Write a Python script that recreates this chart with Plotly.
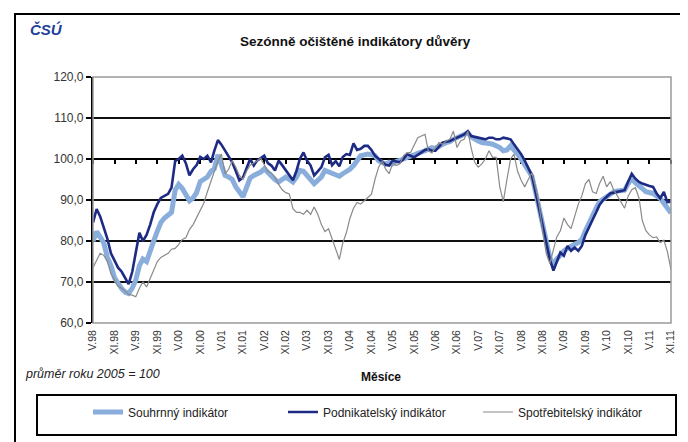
import pandas as pd
import plotly.graph_objects as go

# ---------------- data ----------------
START_MONTH = "1998-05-01"
END_MONTH = "2011-11-01"

SOUHRNNY = [
    80.0, 82.3, 81.0, 79.5, 76.0, 74.0, 71.0, 69.5,
    68.4, 67.5, 67.2, 68.5, 70.5, 74.0, 75.6, 75.0, 78.0, 80.0, 82.4, 84.5,
    85.6, 86.5, 87.0, 92.4, 93.8, 92.8, 91.5, 89.8, 90.5, 91.8, 94.5, 95.2,
    95.6, 97.0, 97.6, 101.0, 98.8, 96.0, 95.6, 95.0, 93.2, 91.8, 90.8, 93.0,
    95.4, 96.0, 96.4, 96.8, 97.6, 96.6, 95.6, 95.0, 94.4, 95.0, 95.6, 95.0,
    94.4, 95.6, 97.2, 97.0, 96.0, 95.0, 94.0, 94.8, 95.6, 97.2, 96.8, 96.4,
    96.0, 95.8, 96.4, 96.8, 97.5, 98.4, 99.5, 100.8, 101.0, 101.2, 101.0, 100.8,
    99.6, 99.2, 98.8, 99.2, 98.8, 99.4, 99.6, 100.0, 100.4, 100.6, 101.0, 101.4,
    101.6, 102.0, 102.4, 102.8, 102.6, 103.2, 103.6, 104.0, 104.2, 104.8, 105.2, 105.8,
    106.2, 106.4, 105.4, 104.8, 104.4, 104.0, 104.0, 103.8, 103.6, 103.2, 102.8, 102.0,
    102.2, 103.2, 102.4, 101.2, 100.0, 98.4, 97.0, 95.8, 92.0, 88.0, 84.0, 79.5,
    76.0, 74.0, 75.6, 76.5, 77.6, 78.2, 78.8, 79.2, 79.6, 80.4, 82.5, 84.5,
    86.4, 88.0, 89.6, 90.3, 90.8, 91.5, 92.0, 92.2, 92.4, 92.4, 94.0, 95.2,
    94.2, 93.6, 92.8, 92.0, 91.8, 91.6, 91.0, 90.4, 89.2, 88.0, 86.8,
]

PODNIKATELSKY = [
    84.5, 87.8, 86.0, 83.5, 80.5, 77.0, 75.0, 73.5,
    72.5, 71.0, 69.5, 72.5, 77.0, 82.0, 80.0, 81.5, 84.0, 87.0, 89.0, 90.5,
    91.0, 91.5, 93.0, 99.5, 100.0, 100.8, 99.0, 96.0, 97.5, 98.5, 100.5, 100.0,
    100.8, 99.2, 102.0, 104.6, 103.5, 102.0, 100.4, 99.2, 97.0, 94.8, 95.5, 97.6,
    100.0, 98.4, 99.6, 100.2, 100.8, 99.0, 98.4, 97.2, 99.6, 98.5, 97.2, 95.8,
    94.8, 97.2, 100.0, 101.6, 99.6, 98.4, 96.0, 97.0, 98.0, 100.4, 101.0, 98.5,
    99.5, 98.2, 100.5, 101.2, 101.0, 103.8, 102.2, 102.5, 103.2, 103.2, 102.2, 100.8,
    100.0, 99.2, 98.6, 98.4, 99.6, 99.4, 99.2, 100.0, 101.2, 100.8, 100.4, 101.0,
    101.6, 102.2, 102.4, 102.0, 102.0, 103.0, 104.0, 104.2, 104.4, 104.8, 105.2, 105.6,
    106.0, 106.8, 105.6, 105.4, 105.2, 105.0, 104.8, 105.2, 105.2, 104.8, 104.8, 105.2,
    105.0, 104.8, 103.6, 102.4, 101.2, 99.6, 97.6, 96.0, 92.0, 88.0, 84.0, 79.5,
    75.5, 72.8, 74.8, 77.2, 76.4, 78.8, 77.6, 78.4, 77.6, 78.8, 81.5, 83.5,
    85.2, 87.0, 88.8, 90.0, 90.8, 91.6, 91.8, 92.0, 92.2, 92.4, 94.5, 96.4,
    95.2, 94.4, 94.0, 93.6, 93.4, 93.2, 91.6, 90.4, 92.0, 89.5, 89.6,
]

SPOTREBITELSKY = [
    73.5, 75.5, 77.0, 76.5, 75.0, 72.0, 70.5, 69.0,
    68.5, 67.6, 67.0, 66.8, 66.4, 68.5, 70.0, 68.8, 71.0, 73.2, 75.0, 76.0,
    76.4, 77.0, 78.0, 78.2, 79.2, 80.4, 80.8, 82.8, 84.0, 85.6, 87.5, 89.2,
    92.0, 94.5, 97.0, 99.5, 101.2, 96.4, 97.5, 99.6, 98.0, 96.0, 95.0, 97.0,
    98.5, 99.0, 99.5, 100.2, 98.5, 97.0, 96.6, 95.5, 93.8, 92.5, 91.8, 91.5,
    87.9, 87.0, 87.0, 86.5, 87.5, 86.5, 88.3, 86.5, 84.0, 82.3, 83.0, 80.5,
    78.0, 75.5, 79.5, 82.0, 85.5, 88.0, 89.4, 89.0, 89.8, 90.5, 91.4, 95.0,
    98.0, 99.5, 97.6, 96.4, 99.0, 98.4, 98.8, 100.8, 101.5, 101.6, 103.6, 105.2,
    105.6, 106.0, 102.0, 101.5, 102.8, 104.0, 103.6, 104.4, 104.8, 106.8, 102.8, 104.4,
    104.8, 106.8, 102.8, 99.2, 98.0, 98.8, 100.0, 102.0, 100.4, 100.4, 93.2, 89.6,
    95.0, 100.0, 101.2, 97.0, 94.8, 93.2, 95.0, 96.6, 93.0, 89.0, 82.5, 77.0,
    74.5, 78.0, 81.0, 82.5, 85.6, 84.0, 83.0, 86.0, 89.0, 91.0, 94.0, 95.0,
    92.0, 91.6, 94.0, 95.8, 93.2, 94.5, 92.4, 91.0, 89.5, 88.0, 91.0, 92.5,
    93.0, 90.5, 85.0, 82.5, 81.5, 80.8, 81.0, 79.6, 80.2, 77.4, 73.0,
]

SERIES_NAMES = ["Souhrnný indikátor", "Podnikatelský indikátor", "Spotřebitelský indikátor"]

X_TICK_LABELS = [
    "V.98", "XI.98", "V.99", "XI.99", "V.00", "XI.00", "V.01", "XI.01",
    "V.02", "XI.02", "V.03", "XI.03", "V.04", "XI.04", "V.05", "XI.05",
    "V.06", "XI.06", "V.07", "XI.07", "V.08", "XI.08", "V.09", "XI.09",
    "V.10", "XI.10", "V.11", "XI.11",
]
Y_TICK_VALUES = [60, 70, 80, 90, 100, 110, 120]
Y_TICK_LABELS = ["60,0", "70,0", "80,0", "90,0", "100,0", "110,0", "120,0"]
AXIS_CROSS = 100

TITLE = "Sezónně očištěné indikátory důvěry"
X_TITLE = "Měsíce"
NOTE = "průměr roku 2005 = 100"
LOGO = "ČSÚ"

# ---------------- layout helpers ----------------
W, H = 688, 442
L, R, T, B = 85, 663, 69, 315  # plot area in pixels
PW, PH = R - L, B - T


def px(x):
    return (x - L) / PW


def py(y):
    return (B - y) / PH


FONT = "Arial, Liberation Sans, sans-serif"
C_LIGHT = "#8AAEDC"
C_NAVY = "#1E2B85"
C_GRAY = "#8A8A8A"

months = pd.date_range(START_MONTH, END_MONTH, freq="MS")
tick_positions = months[::6]

fig = go.Figure()
fig.add_trace(go.Scatter(x=months, y=SOUHRNNY, name=SERIES_NAMES[0], mode="lines",
                         line=dict(color=C_LIGHT, width=5)))
fig.add_trace(go.Scatter(x=months, y=PODNIKATELSKY, name=SERIES_NAMES[1], mode="lines",
                         line=dict(color=C_NAVY, width=2.6)))
fig.add_trace(go.Scatter(x=months, y=SPOTREBITELSKY, name=SERIES_NAMES[2], mode="lines",
                         line=dict(color=C_GRAY, width=1.2)))

x_range = [months[0], months[-1]]

fig.update_layout(
    width=W, height=H,
    margin=dict(l=L, r=W - R, t=T, b=H - B, pad=0),
    paper_bgcolor="white", plot_bgcolor="white",
    font=dict(family=FONT, size=12, color="#222"),
    showlegend=True,
    legend=dict(orientation="h", x=px(80), y=py(404), xanchor="left", yanchor="middle",
                entrywidth=150, entrywidthmode="pixels", bgcolor="rgba(0,0,0,0)",
                font=dict(size=12, color="#222"), itemwidth=30, traceorder="normal"),
    xaxis=dict(type="date", range=x_range, tickvals=tick_positions, ticktext=X_TICK_LABELS,
               tickangle=-90, showgrid=False, showline=False, zeroline=False, ticks="",
               tickfont=dict(size=10.5, color="#333"), ticklabelstandoff=4),
    xaxis2=dict(type="date", range=x_range, overlaying="x", anchor="free",
                position=(AXIS_CROSS - 60) / 60,
                showline=True, linecolor="black", linewidth=2.2, ticks="outside",
                ticklen=4, tickwidth=1.5, tickcolor="black", tickvals=tick_positions,
                showticklabels=False, showgrid=False, zeroline=False, layer="below traces"),
    yaxis=dict(range=[60, 120], tickvals=Y_TICK_VALUES, ticktext=Y_TICK_LABELS,
               showgrid=True, gridcolor="#111", gridwidth=1.6,
               showline=True, linecolor="black", linewidth=2.2,
               ticks="outside", ticklen=5, tickwidth=1.5, tickcolor="black",
               tickfont=dict(size=12, color="#333"), zeroline=False),
)

# invisible anchor trace so xaxis2 is rendered
fig.add_trace(go.Scatter(x=[months[0]], y=[AXIS_CROSS], xaxis="x2", mode="markers",
                         marker=dict(opacity=0), showlegend=False, hoverinfo="skip"))

shapes = [
    # plot-area border (grey)
    dict(type="rect", xref="paper", yref="paper", x0=0, x1=1, y0=0, y1=1,
         line=dict(color="#9a9a9a", width=1.5), layer="above"),
    # outer frame
    dict(type="rect", xref="paper", yref="paper", x0=px(7), x1=px(681), y0=py(6), y1=py(437),
         line=dict(color="black", width=2)),
    # legend frame
    dict(type="rect", xref="paper", yref="paper", x0=px(29), x1=px(668), y0=py(387), y1=py(427),
         line=dict(color="black", width=2)),
]
fig.update_layout(shapes=shapes)

annotations = [
    dict(text=TITLE, xref="paper", yref="paper", x=px(347), y=py(33), xanchor="center",
         yanchor="middle", showarrow=False,
         font=dict(size=13.5, color="#111", family=FONT, weight="bold")),
    dict(text=NOTE, xref="paper", yref="paper", x=px(15), y=py(366), xanchor="left",
         yanchor="middle", showarrow=False,
         font=dict(size=12.5, color="#222", family=FONT, style="italic")),
    dict(text=X_TITLE, xref="paper", yref="paper", x=px(373), y=py(369), xanchor="center",
         yanchor="middle", showarrow=False,
         font=dict(size=12, color="#111", family=FONT, weight="bold")),
    dict(text=LOGO, xref="paper", yref="paper", x=px(20), y=py(22), xanchor="left",
         yanchor="middle", showarrow=False,
         font=dict(size=15, color="#1F3F9A", family=FONT, weight="bold", style="italic")),
]
fig.update_layout(annotations=annotations)

fig.write_html("out.html")
